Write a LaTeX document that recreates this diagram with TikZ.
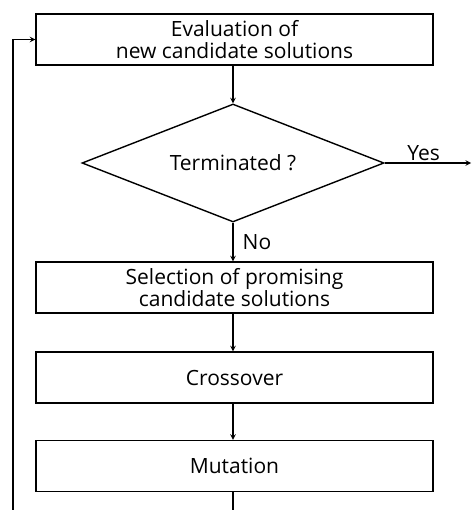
\documentclass[tikz,border=0pt]{standalone}
\usepackage{fontspec}
\setmainfont{Open Sans}
\usetikzlibrary{shapes.geometric}

\begin{document}
\begin{tikzpicture}[x=1pt,y=-1pt,>=stealth]
\tikzset{box/.style={draw=black,line width=1.4pt,minimum width=397pt,minimum height=51pt,inner sep=0pt,align=center,font=\fontsize{21}{22.5}\selectfont},
  cond/.style={draw=black,line width=1.4pt,diamond,aspect=2.56,minimum width=302pt,minimum height=118pt,inner sep=0pt,font=\fontsize{21}{22.5}\selectfont},
  lab/.style={font=\fontsize{21}{22.5}\selectfont,inner sep=2pt},
  arr/.style={->,line width=1.4pt}}
\useasboundingbox (0,0) rectangle (472,510);
\node[box] (eval) at (234.5,39.5) {Evaluation of\\new candidate solutions};
\node[cond] (term) at (233,163) {Terminated ?};
\node[box] (sel) at (234.5,287.5) {Selection of promising\\candidate solutions};
\node[box] (cross) at (234.5,377.5) {Crossover};
\node[box] (mut) at (234.5,466) {Mutation};
\coordinate (yes) at (471,163);
\coordinate (loop) at (13,516);
\draw[arr] (eval.south-|term.north) -- (term.north);
\draw[arr] (term.east) -- node[lab,above,pos=0.45] (yeslab) {Yes} (yes);
\draw[arr] (term.south) -- node[lab,right,xshift=7pt] (nolab) {No} (term.south|-sel.north);
\draw[arr] (sel.south-|term.south) -- (cross.north-|term.south);
\draw[arr] (cross.south-|term.south) -- (mut.north-|term.south);
\draw[arr] (mut.south-|term.south) |- (loop) |- (eval.west);
\end{tikzpicture}
\end{document}
